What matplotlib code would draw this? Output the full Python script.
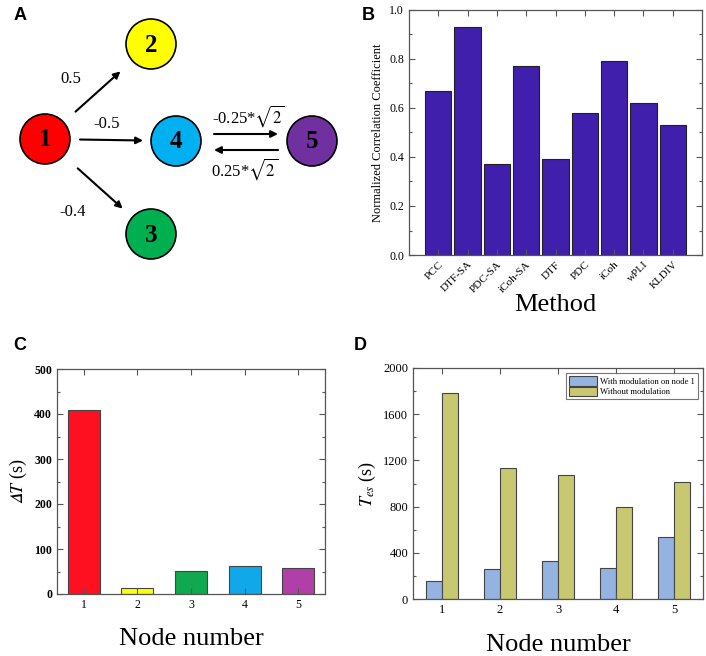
import numpy as np
import matplotlib
matplotlib.use("Agg")
import matplotlib.pyplot as plt
from matplotlib.patches import Circle
from matplotlib.ticker import MultipleLocator

plt.rcParams['font.family'] = ['Liberation Serif', 'DejaVu Serif']
plt.rcParams['mathtext.fontset'] = 'stix'

# ---- data ----
# panel A: network
node_names = ['1', '2', '3', '4', '5']
node_colors = ['#FF0000', '#FFFF00', '#00B050', '#00B0F0', '#7030A0']
edge_src = ['1', '1', '1', '4', '5']
edge_dst = ['2', '4', '3', '5', '4']
edge_labels = ['0.5', '-0.5', '-0.4', r'-0.25*$\sqrt{2}$', r'0.25*$\sqrt{2}$']

# panel B
methods = ['PCC', 'DTF-SA', 'PDC-SA', 'iCoh-SA', 'DTF', 'PDC', 'iCoh', 'wPLI', 'KLDIV']
corr_coef = [0.67, 0.93, 0.37, 0.77, 0.39, 0.58, 0.79, 0.62, 0.53]

# panel C
nodes = [1, 2, 3, 4, 5]
delta_t = [410, 14, 52, 63, 57]
delta_colors = ['#FF1020', '#FFFF10', '#10A850', '#10A8E8', '#B040A8']

# panel D
t_with_mod = [160, 260, 325, 270, 540]
t_without_mod = [1785, 1130, 1075, 800, 1010]

# ---- layout for panel A (pixel coordinates) ----
node_pos = {'1': (45, 139), '2': (151, 44), '3': (151, 234), '4': (176, 141), '5': (312, 141)}
edge_offset = [0, 0, 0, -7, 9]
edge_gap = [(41, 41), (35, 33), (44, 38), (38, 34), (34, 38)]
label_pos = [(71, 79), (107, 124), (73, 212), (248, 116), (245, 169)]

fig = plt.figure(figsize=(7.06, 6.56), dpi=100)

def px_axes(x0, y0, x1, y1):
    return fig.add_axes([x0 / 706, 1 - y1 / 656, (x1 - x0) / 706, (y1 - y0) / 656])

def style_axes(ax):
    for s in ax.spines.values():
        s.set_color('#555555')
        s.set_linewidth(0.9)
    ax.tick_params(which='both', direction='in', top=True, right=True, colors='#555555',
                   labelcolor='black', width=0.8)
    ax.tick_params(which='major', length=4)
    ax.tick_params(which='minor', length=2.5)

# Panel A
axA = px_axes(0, 0, 360, 300)
axA.set_xlim(0, 360)
axA.set_ylim(300, 0)
axA.axis('off')
for name, col in zip(node_names, node_colors):
    x, y = node_pos[name]
    axA.add_patch(Circle((x, y), 25, facecolor=col, edgecolor='black', lw=1.2))
    axA.text(x, y + 1, name, ha='center', va='center', fontsize=18, fontweight='bold')
for s, d, off, gap, lab, lp in zip(edge_src, edge_dst, edge_offset, edge_gap, edge_labels, label_pos):
    p0 = np.array(node_pos[s], float)
    p1 = np.array(node_pos[d], float)
    v = (p1 - p0) / np.linalg.norm(p1 - p0)
    a = p0 + v * gap[0] + np.array([0, off])
    b = p1 - v * gap[1] + np.array([0, off])
    axA.annotate('', xy=b, xytext=a,
                 arrowprops=dict(arrowstyle='-|>', color='black', lw=1.5,
                                 mutation_scale=10, shrinkA=0, shrinkB=0))
    axA.text(lp[0], lp[1], lab, ha='center', va='center', fontsize=12)

# Panel B
axB = px_axes(409, 10, 702, 255)
xb = np.arange(1, len(methods) + 1)
axB.bar(xb, corr_coef, width=0.9, color='#3F1FAB', edgecolor='#222222', lw=0.8)
axB.set_xlim(0, len(methods) + 1)
axB.set_ylim(0, 1.0)
axB.set_xticks(xb)
axB.set_xticklabels(methods, rotation=45, ha='right', rotation_mode='anchor', fontsize=8)
axB.yaxis.set_major_locator(MultipleLocator(0.2))
axB.yaxis.set_minor_locator(MultipleLocator(0.1))
axB.set_yticklabels([f'{v:.1f}' for v in axB.get_yticks()], fontsize=8.5)
style_axes(axB)
axB.set_ylabel('Normalized Correlation Coefficient', fontsize=9)
axB.set_xlabel('Method', fontsize=19, labelpad=0)

# Panel C
axC = px_axes(57, 369, 325, 594)
axC.bar(nodes, delta_t, width=0.6, color=delta_colors, edgecolor='#444444', lw=0.8)
axC.set_xlim(0.5, 5.5)
axC.set_ylim(0, 500)
axC.set_xticks(nodes)
axC.yaxis.set_major_locator(MultipleLocator(100))
axC.yaxis.set_minor_locator(MultipleLocator(50))
style_axes(axC)
axC.tick_params(labelsize=8.5)
for t in axC.get_yticklabels():
    t.set_fontweight('bold')
axC.set_ylabel('$\U0001D6E5T$ (s)', fontsize=13)
axC.set_xlabel('Node number', fontsize=19, labelpad=12.5)

# Panel D
axD = px_axes(413, 368, 703, 599)
w = 0.28
axD.bar(np.array(nodes) - w / 2, t_with_mod, width=w, color='#95B3E0', edgecolor='#444444',
        lw=0.8, label='With modulation on node 1')
axD.bar(np.array(nodes) + w / 2, t_without_mod, width=w, color='#C8C870', edgecolor='#444444',
        lw=0.8, label='Without modulation')
axD.set_xlim(0.5, 5.5)
axD.set_ylim(0, 2000)
axD.set_xticks(nodes)
axD.yaxis.set_major_locator(MultipleLocator(400))
axD.yaxis.set_minor_locator(MultipleLocator(200))
style_axes(axD)
axD.tick_params(labelsize=9)
axD.set_ylabel(r'$T_{es}$ (s)', fontsize=13)
axD.set_xlabel('Node number', fontsize=19, labelpad=13)
leg = axD.legend(loc='upper right', fontsize=6.2, frameon=True, fancybox=False,
                 handlelength=3.3, handleheight=1.3, borderpad=0.35, labelspacing=0.1,
                 handletextpad=0.3, borderaxespad=0.6)
leg.get_frame().set_edgecolor('#555555')
leg.get_frame().set_linewidth(0.8)

# panel letters
for lab, x, y in [('A', 20, 16), ('B', 368, 16), ('C', 20, 346), ('D', 360, 346)]:
    fig.text(x / 706, 1 - y / 656, lab, ha='center', va='center', fontsize=13,
             fontweight='bold', family='Liberation Sans')

fig.savefig('out.png', dpi=100)
